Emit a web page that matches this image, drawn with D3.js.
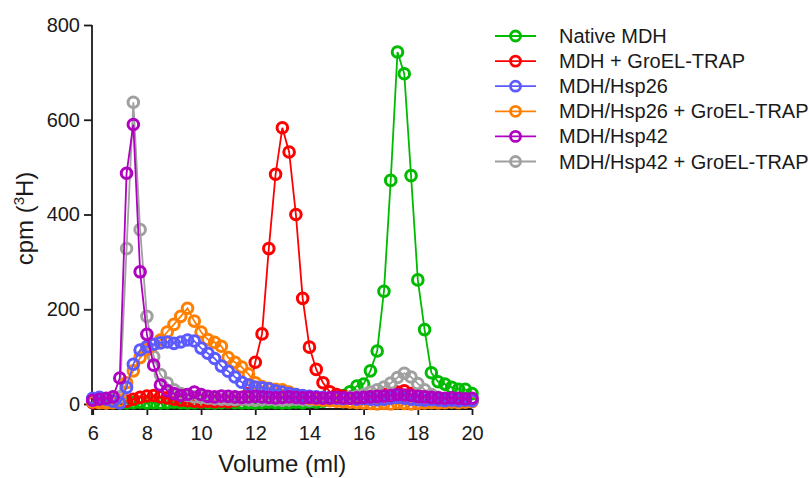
<!DOCTYPE html>
<html>
<head>
<meta charset="utf-8">
<script src="https://cdn.jsdelivr.net/npm/d3@7"></script>
<style>
  html, body { margin: 0; padding: 0; background: #fff; }
  svg { display: block; }
  text { font-family: "Liberation Sans", Arial, sans-serif; fill: #1a1a1a; }
</style>
</head>
<body>
<svg id="chart" width="809" height="478"></svg>
<script>
// ---- data ----
const volumes = [6,6.25,6.5,6.75,7,7.25,7.5,7.75,8,8.25,8.5,8.75,9,9.25,9.5,9.75,10,10.25,10.5,10.75,11,11.25,11.5,11.75,12,12.25,12.5,12.75,13,13.25,13.5,13.75,14,14.25,14.5,14.75,15,15.25,15.5,15.75,16,16.25,16.5,16.75,17,17.25,17.5,17.75,18,18.25,18.5,18.75,19,19.25,19.5,19.75,20];

const nativeMDH = [5,4,3,4,3,2,3,4,2,3, 2,3,4,3,2,3,4,3,2,3, 4,3,2,3,2,3,4,3,2,3, 4,3,5,4,6,9,12,18,26,38, 42,70,112,238,472,743,697,482,262,157, 66,47,42,35,31,31,22];
const mdhGroEL = [3,4,3,4,5,6,10,14,17,18, 15,13,10,8,7,6,5,6,5,6, 5,7,10,22,88,148,328,485,583,532, 400,223,120,73,45,26,20,16,14,12, 14,16,18,20,22,25,28,22,18,15, 13,12,10,10,9,8,8];
const mdhHsp26 = [12,14,10,6,2,35,84,114,121,126, 129,131,128,131,135,133,118,107,96,80, 69,57,46,40,36,34,32,28,25,22, 20,18,16,15,14,13,12,11,12,10, 11,10,9,10,12,14,12,10,9,8, 9,8,7,8,7,8,7];
const mdhHsp26GroEL = [5,3,2,3,6,45,70,98,115,125, 135,152,168,185,202,175,152,136,130,122, 98,88,78,63,45,37,33,31,30,25, 20,16,12,10,8,7,6,5,4,3, 2,1,0,1,0,2,1,0,1,2, 3,2,3,4,3,4,5];
const mdhHsp42 = [8,10,12,15,55,487,590,279,147,82, 40,28,22,18,20,25,20,16,15,17, 16,15,14,15,16,15,14,13,14,15, 14,13,14,13,12,13,14,13,12,13, 14,15,16,17,18,20,19,18,16,15, 14,13,12,13,12,11,12];
const mdhHsp42GroEL = [5,6,8,10,15,328,637,368,185,100, 62,44,30,22,18,15,14,12,11,10, 10,9,10,9,8,9,10,9,8,9, 10,9,8,9,10,9,10,11,14,16, 20,25,30,36,44,56,65,57,43,30, 20,14,11,10,9,9,8];

const seriesNames = ["Native MDH","MDH + GroEL-TRAP","MDH/Hsp26","MDH/Hsp26 + GroEL-TRAP","MDH/Hsp42","MDH/Hsp42 + GroEL-TRAP"];
const seriesValues = [nativeMDH, mdhGroEL, mdhHsp26, mdhHsp26GroEL, mdhHsp42, mdhHsp42GroEL];
const seriesColors = ["#00bb00","#ff0000","#5a5aff","#ff8000","#b000c0","#a0a0a0"];
const drawOrder = [0, 1, 5, 3, 2, 4];

const xTicks = [6,8,10,12,14,16,18,20];
const yTicks = [0,200,400,600,800];

// ---- layout ----
const svg = d3.select("#chart");
const x = d3.scaleLinear().domain([6, 20]).range([92.7, 472]);
const y = d3.scaleLinear().domain([0, 800]).range([404, 25]);
const xAxisY = 409;
const ink = "#1a1a1a";

// axes
const yAxis = d3.axisLeft(y).tickValues(yTicks).tickSize(8).tickPadding(4).tickFormat(d3.format("d"));
const gy = svg.append("g").attr("transform", "translate(92,0)").call(yAxis);
gy.select(".domain").remove();
gy.append("line").attr("x1", 0).attr("x2", 0).attr("y1", y(800)).attr("y2", xAxisY + 6)
  .attr("stroke", ink).attr("stroke-width", 1.8);
gy.selectAll(".tick line").attr("stroke", ink).attr("stroke-width", 1.8);
gy.selectAll(".tick text").attr("font-size", 20).attr("fill", ink)
  .attr("font-family", "Liberation Sans, Arial, sans-serif");

const xAxis = d3.axisBottom(x).tickValues(xTicks).tickSize(6).tickPadding(11).tickFormat(d3.format("d"));
const gx = svg.append("g").attr("transform", `translate(0,${xAxisY})`).call(xAxis);
gx.select(".domain").remove();
gx.append("line").attr("x1", 92).attr("x2", x(20)).attr("y1", 0).attr("y2", 0)
  .attr("stroke", ink).attr("stroke-width", 1.8);
gx.selectAll(".tick line").attr("stroke", ink).attr("stroke-width", 1.8);
gx.selectAll(".tick text").attr("font-size", 20).attr("fill", ink)
  .attr("font-family", "Liberation Sans, Arial, sans-serif");

// axis titles
svg.append("text").attr("x", (x(6) + x(20)) / 2).attr("y", 472)
  .attr("text-anchor", "middle").attr("font-size", 24).text("Volume (ml)");
const yt = svg.append("text").attr("transform", `translate(33,${y(400) + 4}) rotate(-90)`)
  .attr("text-anchor", "middle").attr("font-size", 24);
yt.append("tspan").text("cpm (");
yt.append("tspan").attr("font-size", 15).attr("dy", -9).text("3");
yt.append("tspan").attr("dy", 9).text("H)");

// series
const line = d3.line().x((d, i) => x(volumes[i])).y(d => y(d));
const plot = svg.append("g");
drawOrder.forEach(si => {
  const g = plot.append("g");
  const col = seriesColors[si];
  g.append("path").datum(seriesValues[si]).attr("d", line)
    .attr("fill", "none").attr("stroke", col).attr("stroke-width", 1.8);
  g.selectAll("circle").data(seriesValues[si]).enter().append("circle")
    .attr("cx", (d, i) => x(volumes[i])).attr("cy", d => y(d)).attr("r", 5.3)
    .attr("fill", "none").attr("stroke", col).attr("stroke-width", 3);
});

// legend
const legend = svg.append("g");
seriesNames.forEach((name, i) => {
  const ly = 36 + i * 25.1;
  const col = seriesColors[i];
  legend.append("line").attr("x1", 495).attr("x2", 536).attr("y1", ly).attr("y2", ly)
    .attr("stroke", col).attr("stroke-width", 1.8);
  legend.append("circle").attr("cx", 515.5).attr("cy", ly).attr("r", 5)
    .attr("fill", "none").attr("stroke", col).attr("stroke-width", 2.8);
  legend.append("text").attr("x", 559).attr("y", ly + 7).attr("font-size", 20).text(name);
});
</script>
</body>
</html>
